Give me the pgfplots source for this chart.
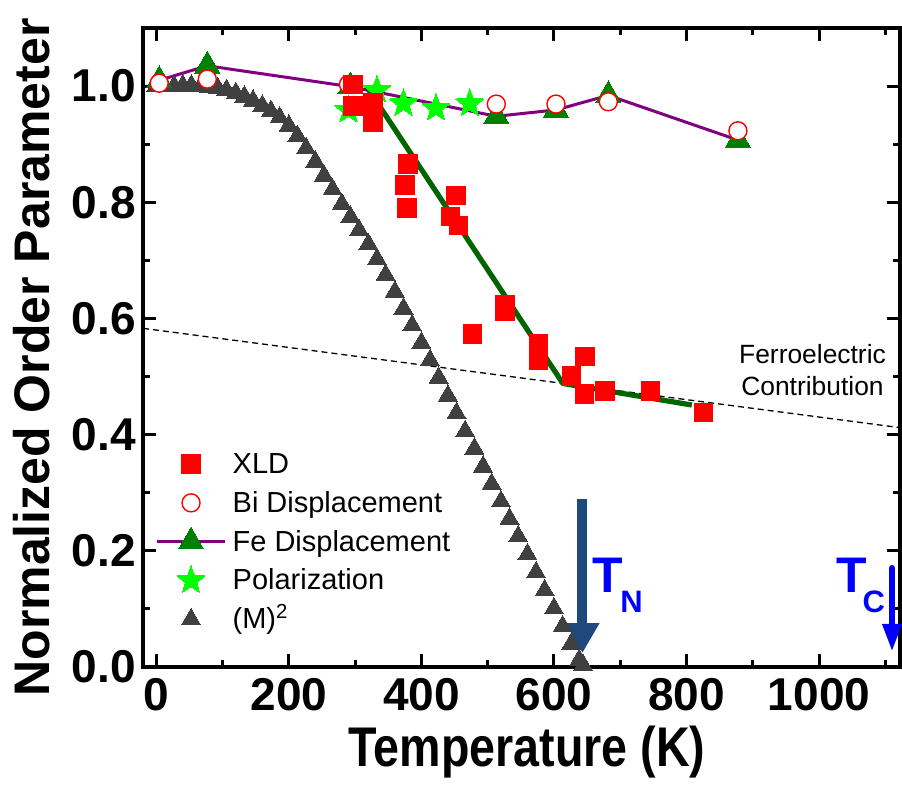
\documentclass[border=0pt]{standalone}
\usepackage{fontspec}
\setmainfont{Liberation Sans}
\usepackage{pgfplots}
\pgfplotsset{compat=1.18}
\usetikzlibrary{arrows.meta}

\definecolor{xldred}{RGB}{255,0,0}
\definecolor{fegreen}{RGB}{0,128,0}
\definecolor{fitgreen}{RGB}{0,100,0}
\definecolor{fepurple}{RGB}{128,0,128}
\definecolor{polgreen}{RGB}{0,255,0}
\definecolor{mgray}{RGB}{64,64,64}
\definecolor{tnblue}{RGB}{31,73,125}
\definecolor{tcblue}{RGB}{0,0,255}

\pgfdeclareplotmark{fstar}{%
  \pgfpathmoveto{\pgfpointpolar{90}{\pgfplotmarksize}}%
  \pgfpathlineto{\pgfpointpolar{126}{0.42\pgfplotmarksize}}%
  \pgfpathlineto{\pgfpointpolar{162}{\pgfplotmarksize}}%
  \pgfpathlineto{\pgfpointpolar{198}{0.42\pgfplotmarksize}}%
  \pgfpathlineto{\pgfpointpolar{234}{\pgfplotmarksize}}%
  \pgfpathlineto{\pgfpointpolar{270}{0.42\pgfplotmarksize}}%
  \pgfpathlineto{\pgfpointpolar{306}{\pgfplotmarksize}}%
  \pgfpathlineto{\pgfpointpolar{342}{0.42\pgfplotmarksize}}%
  \pgfpathlineto{\pgfpointpolar{18}{\pgfplotmarksize}}%
  \pgfpathlineto{\pgfpointpolar{54}{0.42\pgfplotmarksize}}%
  \pgfpathclose
  \pgfusepathqfillstroke
}

\pgfplotstableread{
T v
297 1.003
297 0.966
327 0.971
327 0.938
380 0.866
375 0.830
378 0.790
452 0.812
444 0.776
456 0.760
477 0.573
526 0.623
526 0.612
577 0.556
577 0.528
647 0.534
626 0.501
646 0.470
677 0.475
746 0.475
826 0.438
}\xld

\pgfplotstableread{
T v
318 0.998
613.5 0.488
808 0.451
}\xldfit

\pgfplotstableread{
T v
4.5 1.005
77 1.012
290 1.003
513 0.969
603 0.969
682 0.973
877.5 0.923
}\bidisp

\pgfplotstableread{
T v
4.5 1.010
77 1.035
293 0.999
513 0.948
603 0.959
682 0.984
877.5 0.907
}\fedisp

\pgfplotstableread{
T v
290 0.959
333 0.993
373 0.970
422 0.962
473 0.970
}\polar

\pgfplotstableread{
T v
0 1.000
13 1.000
27 1.000
40 1.001
53 1.001
67 1.000
80 0.998
93 0.996
106 0.993
120 0.988
133 0.982
146 0.975
160 0.966
173 0.957
186 0.946
200 0.932
213 0.914
226 0.893
240 0.870
253 0.846
266 0.822
280 0.797
293 0.775
306 0.752
320 0.728
333 0.702
346 0.675
360 0.646
373 0.617
386 0.588
400 0.558
413 0.528
426 0.498
440 0.467
453 0.437
466 0.406
480 0.376
493 0.345
506 0.315
520 0.285
533 0.255
546 0.225
560 0.194
573 0.163
586 0.132
600 0.101
613 0.070
626 0.040
638 0.012
644 0.003
}\msq

\begin{document}
\begin{tikzpicture}
\path[use as bounding box] (-71.5pt,-60.5pt) rectangle (379.5pt,333.5pt);
\begin{axis}[
  scale only axis, width=378.5pt, height=319.5pt,
  xmin=-20, xmax=1122, ymin=0, ymax=1.1,
  clip=false,
  axis line style={line width=1.65pt},
  tick style={line width=1.5pt, black},
  tick align=inside,
  major tick length=6.5pt, minor tick length=3.5pt,
  xtick={0,200,400,600,800,1000},
  minor xtick={100,300,500,700,900,1100},
  ytick={0,0.2,0.4,0.6,0.8,1.0},
  minor ytick={0.1,0.3,0.5,0.7,0.9},
  /pgf/number format/assume math mode=true,
  /pgf/number format/1000 sep={},
  yticklabel style={/pgf/number format/.cd, fixed, fixed zerofill, precision=1},
  ticklabel style={font=\fontsize{23}{23}\selectfont\bfseries},
  xticklabel style={yshift=-2.2pt},
  xlabel={\scalebox{1}[1.2]{Temperature (K)}},
  ylabel={Normalized Order Parameter},
  xlabel style={font=\fontsize{23.3}{24}\selectfont\bfseries, at={(axis description cs:0.5073,-0.156)}, anchor=base, inner sep=0pt},
  ylabel style={font=\fontsize{25}{26}\selectfont\bfseries, at={(axis description cs:-0.1229,0.4844)}, anchor=base, rotate=0, inner sep=0pt},
  legend style={at={(axis description cs:0.01585,0.3423)}, anchor=north west,
    draw=none, fill=none, inner sep=0pt, row sep=4pt, column sep=3pt,
    font=\fontsize{14.5}{17}\selectfont,
    nodes={inner sep=0pt, text height=12pt, text depth=2.5pt}},
  legend cell align=left,
]
% legend
\addlegendimage{legend image code/.code={%
  \path (0cm,-7.5pt) (1.2cm,7.5pt);
  \draw plot[only marks, mark=square*, mark size=4.6pt, mark options={draw=xldred, fill=xldred, line width=0pt}] coordinates {(0.6cm,0cm)};}}
\addlegendentry{XLD}
\addlegendimage{legend image code/.code={%
  \path (0cm,-7.5pt) (1.2cm,7.5pt);
  \draw plot[only marks, mark=*, mark size=4.5pt, mark options={draw=xldred, fill=white, line width=0.7pt}] coordinates {(0.6cm,0cm)};}}
\addlegendentry{Bi Displacement}
\addlegendimage{legend image code/.code={%
  \path (0cm,-7.5pt) (1.2cm,7.5pt);
  \draw[fepurple, line width=1.5pt] (0cm,0cm) -- (1.2cm,0cm);
  \draw plot[only marks, mark=triangle*, mark size=7.3pt, mark options={draw=fegreen, fill=fegreen, line width=0pt}] coordinates {(0.6cm,0cm)};}}
\addlegendentry{Fe Displacement}
\addlegendimage{legend image code/.code={%
  \path (0cm,-7.5pt) (1.2cm,7.5pt);
  \draw plot[only marks, mark=fstar, mark size=7.3pt, mark options={draw=polgreen, fill=polgreen, line width=0pt}] coordinates {(0.6cm,0cm)};}}
\addlegendentry{Polarization}
\addlegendimage{legend image code/.code={%
  \path (0cm,-7.5pt) (1.2cm,7.5pt);
  \draw plot[only marks, mark=triangle*, mark size=5.5pt, mark options={draw=mgray, fill=mgray, line width=0pt}] coordinates {(0.6cm,0cm)};}}
\addlegendentry{(M)\textsuperscript{2}}

% ferroelectric contribution dashed line
\addplot[forget plot, black, line width=0.65pt, dash pattern=on 3pt off 2pt] coordinates {(-20,0.583) (1122,0.412)};

% (M)^2
\addplot[forget plot, only marks, mark=triangle*, mark size=5.5pt, mark options={draw=mgray, fill=mgray, line width=0pt}] table[x=T,y=v] {\msq};

% Fe displacement
\addplot[forget plot, fepurple, line width=1.5pt, mark=triangle*, mark size=7.3pt, mark options={draw=fegreen, fill=fegreen, line width=0pt}] table[x=T,y=v] {\fedisp};

% Bi displacement
\addplot[forget plot, only marks, mark=*, mark size=4.5pt, mark options={draw=xldred, fill=white, line width=0.7pt}] table[x=T,y=v] {\bidisp};

% Polarization
\addplot[forget plot, only marks, mark=fstar, mark size=7.3pt, mark options={draw=polgreen, fill=polgreen, line width=0pt}] table[x=T,y=v] {\polar};

% XLD fit
\addplot[forget plot, fitgreen, line width=2.6pt, line join=round] table[x=T,y=v] {\xldfit};

% XLD
\addplot[forget plot, only marks, mark=square*, mark size=4.6pt, mark options={draw=xldred, fill=xldred, line width=0pt}] table[x=T,y=v] {\xld};

% annotations
\draw[tnblue, line width=5pt, -{Triangle[width=16pt,length=15pt]}] (axis cs:643,0.289) -- (axis cs:643,0.024);
\draw[tcblue, line width=3.3pt, line cap=round, -{Triangle[width=9pt,length=14pt]}] (axis cs:1110,0.170) -- (axis cs:1110,0.026);
\node[anchor=base west, inner sep=0pt, text=tcblue, font=\fontsize{25}{25}\selectfont\bfseries] at (axis cs:658,0.1274) {T\kern-1.5pt\raisebox{-10pt}{\fontsize{15.5}{15.5}\selectfont N}};
\node[anchor=base west, inner sep=0pt, text=tcblue, font=\fontsize{25}{25}\selectfont\bfseries] at (axis cs:1025,0.1274) {T\kern-2pt\raisebox{-10pt}{\fontsize{15.5}{15.5}\selectfont C}};
\node[anchor=base, inner sep=0pt, font=\fontsize{13.2}{15}\selectfont] at (axis cs:990,0.523) {Ferroelectric};
\node[anchor=base, inner sep=0pt, font=\fontsize{13.2}{15}\selectfont] at (axis cs:990,0.468) {Contribution};
\end{axis}
\end{tikzpicture}
\end{document}
